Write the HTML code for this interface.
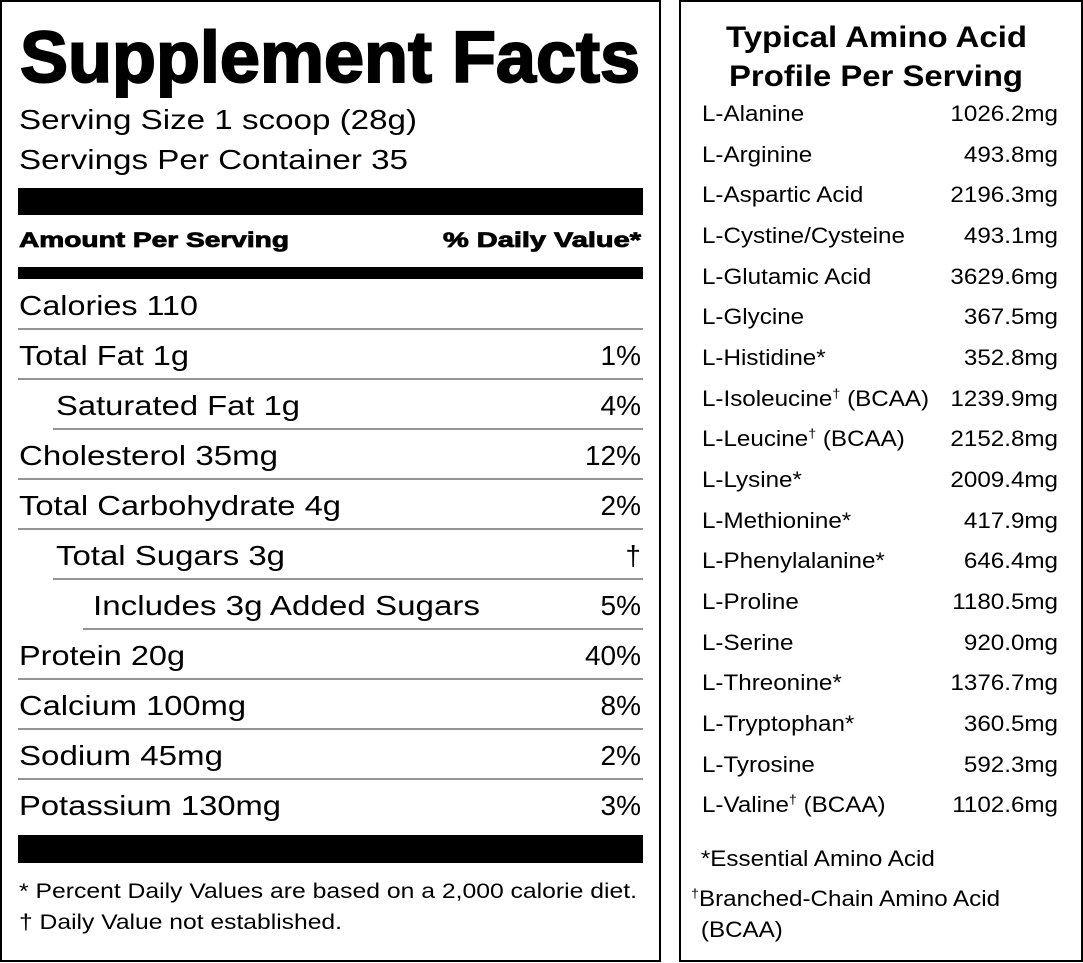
<!DOCTYPE html>
<html><head><meta charset="utf-8"><style>
html,body{margin:0;padding:0;background:#fff;}
svg{display:block;font-family:"Liberation Sans",Arial,sans-serif;}
</style></head><body>
<svg width="1083" height="963" viewBox="0 0 1083 963" xmlns="http://www.w3.org/2000/svg">
<rect x="1" y="1" width="659" height="960" fill="none" stroke="#000" stroke-width="2"/>
<rect x="680" y="1" width="402" height="960" fill="none" stroke="#000" stroke-width="2"/>
<text x="20" y="82" font-size="72" font-weight="bold" textLength="620" lengthAdjust="spacingAndGlyphs" stroke="#000" stroke-width="2">Supplement Facts</text>
<g font-size="28" lengthAdjust="spacingAndGlyphs">
<text x="19" y="129" textLength="398" lengthAdjust="spacingAndGlyphs">Serving Size 1 scoop (28g)</text>
<text x="19" y="169" textLength="389" lengthAdjust="spacingAndGlyphs">Servings Per Container 35</text>
</g>
<rect x="18" y="188" width="625" height="27" fill="#000"/>
<text x="19" y="247" font-size="21" font-weight="bold" stroke="#000" stroke-width="0.8" textLength="270" lengthAdjust="spacingAndGlyphs">Amount Per Serving</text>
<text x="443" y="247" font-size="21" font-weight="bold" stroke="#000" stroke-width="0.8" textLength="198" lengthAdjust="spacingAndGlyphs">% Daily Value*</text>
<rect x="18" y="267" width="625" height="12" fill="#000"/>
<g stroke="#555" stroke-width="1.3">
<line x1="18" y1="329" x2="643" y2="329"/>
<line x1="18" y1="379" x2="643" y2="379"/>
<line x1="53" y1="429" x2="643" y2="429"/>
<line x1="18" y1="479" x2="643" y2="479"/>
<line x1="18" y1="529" x2="643" y2="529"/>
<line x1="53" y1="579" x2="643" y2="579"/>
<line x1="83" y1="629" x2="643" y2="629"/>
<line x1="18" y1="679" x2="643" y2="679"/>
<line x1="18" y1="729" x2="643" y2="729"/>
<line x1="18" y1="779" x2="643" y2="779"/>
</g>
<g font-size="28">
<text x="19" y="315" textLength="179" lengthAdjust="spacingAndGlyphs">Calories 110</text>
<text x="19" y="365" textLength="170" lengthAdjust="spacingAndGlyphs">Total Fat 1g</text><text x="641" y="365" text-anchor="end">1%</text>
<text x="56" y="415" textLength="244" lengthAdjust="spacingAndGlyphs">Saturated Fat 1g</text><text x="641" y="415" text-anchor="end">4%</text>
<text x="19" y="465" textLength="259" lengthAdjust="spacingAndGlyphs">Cholesterol 35mg</text><text x="641" y="465" text-anchor="end">12%</text>
<text x="19" y="515" textLength="322" lengthAdjust="spacingAndGlyphs">Total Carbohydrate 4g</text><text x="641" y="515" text-anchor="end">2%</text>
<text x="56" y="565" textLength="229" lengthAdjust="spacingAndGlyphs">Total Sugars 3g</text><text x="641" y="565" text-anchor="end">†</text>
<text x="93" y="615" textLength="387" lengthAdjust="spacingAndGlyphs">Includes 3g Added Sugars</text><text x="641" y="615" text-anchor="end">5%</text>
<text x="19" y="665" textLength="166" lengthAdjust="spacingAndGlyphs">Protein 20g</text><text x="641" y="665" text-anchor="end">40%</text>
<text x="19" y="715" textLength="227" lengthAdjust="spacingAndGlyphs">Calcium 100mg</text><text x="641" y="715" text-anchor="end">8%</text>
<text x="19" y="765" textLength="204" lengthAdjust="spacingAndGlyphs">Sodium 45mg</text><text x="641" y="765" text-anchor="end">2%</text>
<text x="19" y="815" textLength="262" lengthAdjust="spacingAndGlyphs">Potassium 130mg</text><text x="641" y="815" text-anchor="end">3%</text>
</g>
<rect x="18" y="835" width="625" height="28" fill="#000"/>
<g font-size="21">
<text x="19" y="898" textLength="618" lengthAdjust="spacingAndGlyphs">* Percent Daily Values are based on a 2,000 calorie diet.</text>
<text x="19" y="929" textLength="323" lengthAdjust="spacingAndGlyphs">† Daily Value not established.</text>
</g>
<g font-size="30" font-weight="bold">
<text x="726" y="47" textLength="301" lengthAdjust="spacingAndGlyphs">Typical Amino Acid</text>
<text x="729" y="86" textLength="294" lengthAdjust="spacingAndGlyphs">Profile Per Serving</text>
</g>
<g font-size="22" transform="translate(702,0) scale(1.1,1) translate(-702,0)">
<text x="702" y="121">L-Alanine</text>
<text x="702" y="162">L-Arginine</text>
<text x="702" y="202">L-Aspartic Acid</text>
<text x="702" y="243">L-Cystine/Cysteine</text>
<text x="702" y="284">L-Glutamic Acid</text>
<text x="702" y="324">L-Glycine</text>
<text x="702" y="365">L-Histidine*</text>
<text x="702" y="406">L-Isoleucine<tspan font-size="13" dy="-8">†</tspan><tspan dy="8"> (BCAA)</tspan></text>
<text x="702" y="446">L-Leucine<tspan font-size="13" dy="-8">†</tspan><tspan dy="8"> (BCAA)</tspan></text>
<text x="702" y="487">L-Lysine*</text>
<text x="702" y="528">L-Methionine*</text>
<text x="702" y="568">L-Phenylalanine*</text>
<text x="702" y="609">L-Proline</text>
<text x="702" y="650">L-Serine</text>
<text x="702" y="690">L-Threonine*</text>
<text x="702" y="731">L-Tryptophan*</text>
<text x="702" y="772">L-Tyrosine</text>
<text x="702" y="812">L-Valine<tspan font-size="13" dy="-8">†</tspan><tspan dy="8"> (BCAA)</tspan></text>
<text x="701" y="866">*Essential Amino Acid</text>
<text x="692" y="906"><tspan font-size="13" dy="-8">†</tspan><tspan dy="8">Branched-Chain Amino Acid</tspan></text>
<text x="701" y="937">(BCAA)</text>
</g>
<g font-size="22" text-anchor="end" transform="translate(1058,0) scale(1.1,1) translate(-1058,0)">
<text x="1058" y="121">1026.2mg</text>
<text x="1058" y="162">493.8mg</text>
<text x="1058" y="202">2196.3mg</text>
<text x="1058" y="243">493.1mg</text>
<text x="1058" y="284">3629.6mg</text>
<text x="1058" y="324">367.5mg</text>
<text x="1058" y="365">352.8mg</text>
<text x="1058" y="406">1239.9mg</text>
<text x="1058" y="446">2152.8mg</text>
<text x="1058" y="487">2009.4mg</text>
<text x="1058" y="528">417.9mg</text>
<text x="1058" y="568">646.4mg</text>
<text x="1058" y="609">1180.5mg</text>
<text x="1058" y="650">920.0mg</text>
<text x="1058" y="690">1376.7mg</text>
<text x="1058" y="731">360.5mg</text>
<text x="1058" y="772">592.3mg</text>
<text x="1058" y="812">1102.6mg</text>
</g>
</svg>
</body></html>
